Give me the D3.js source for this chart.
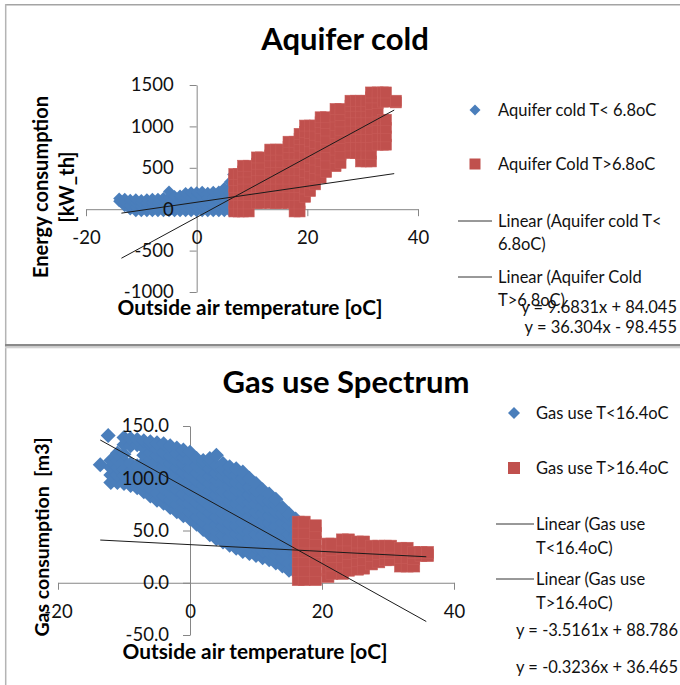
<!DOCTYPE html>
<html>
<head>
<meta charset="utf-8">
<script src="https://cdn.jsdelivr.net/npm/d3@7"></script>
<style>
  html, body { margin: 0; padding: 0; background: #fff; }
  svg { display: block; font-family: Lato, "Open Sans", "Liberation Sans", sans-serif; }
</style>
</head>
<body>
<svg id="chart" width="680" height="685"></svg>
<script>
// ---------------- Aquifer cold: energy consumption [kW_th] vs outside temperature [oC]
// Each entry: [temperature, [consumption readings at that temperature]]
const aquiferColdBelow = [
  [-14, [95, 130]],
  [-13, [35, 85, 125]],
  [-12, [-5, 45, 95, 115]],
  [-11, [-25, 25, 75, 120]],
  [-10, [-25, 30, 80, 110]],
  [-9, [-25, 25, 75, 120]],
  [-8, [-25, 30, 80, 125]],
  [-7, [-25, 25, 75, 125]],
  [-6, [-25, 30, 85, 135]],
  [-5, [-25, 30, 85, 140, 215]],
  [-4, [-25, 25, 80, 135, 160]],
  [-3, [-25, 30, 85, 140, 165]],
  [-2, [-25, 25, 80, 135, 195]],
  [-1, [-25, 30, 85, 140, 205]],
  [0, [-25, 25, 80, 135, 190, 205]],
  [1, [-25, 30, 85, 140, 210]],
  [2, [-25, 25, 80, 135, 200]],
  [3, [-25, 30, 85, 140, 210]],
  [4, [-25, 25, 80, 135, 190, 215]],
  [5, [-25, 30, 85, 140, 195, 255]],
  [6, [-25, 30, 85, 140, 195, 250, 330]],
  [6.6, [-25, 40, 100, 160, 220, 280, 350, 420]]
];
const aquiferColdAbove = [
  [6.8, [-27, 70, 170, 270, 350, 425]],
  [7.6, [-27, 70, 170, 270, 350, 425]],
  [8.4, [-27, 70, 170, 270, 370, 455, 525]],
  [9.4, [-27, 70, 170, 270, 370, 455, 525]],
  [10.9, [74, 170, 270, 370, 470, 550, 625]],
  [11.6, [74, 170, 270, 370, 470, 550, 625]],
  [13.3, [74, 170, 270, 370, 470, 570, 650, 720]],
  [14.3, [74, 170, 270, 370, 470, 570, 650, 720]],
  [15.3, [74, 170, 270, 370, 470, 570, 650, 720]],
  [16.6, [74, 170, 270, 370, 470, 570, 670, 750, 815]],
  [17.7, [-27, 70, 170, 270, 370, 470, 570, 670, 750, 815]],
  [18.6, [-27, 70, 170, 270, 370, 470, 570, 670, 770, 850, 910]],
  [19.6, [150, 250, 350, 450, 550, 650, 750, 850, 930, 1010]],
  [20.5, [220, 320, 420, 520, 620, 720, 820, 920, 1010]],
  [21.4, [300, 400, 500, 600, 700, 800, 900, 1010]],
  [22.4, [380, 480, 580, 680, 780, 880, 980, 1050, 1110]],
  [23.4, [450, 550, 650, 750, 850, 950, 1040, 1110]],
  [25.1, [520, 620, 720, 820, 920, 1020, 1120, 1210]],
  [26.0, [560, 660, 760, 860, 960, 1060, 1140, 1210]],
  [27.8, [678, 770, 870, 970, 1070, 1170, 1250, 1310]],
  [28.8, [678, 770, 870, 970, 1070, 1170, 1250, 1310]],
  [29.7, [577, 670, 770, 870, 970, 1070, 1170, 1250, 1310]],
  [30.7, [577, 670, 770, 870, 970, 1070, 1170, 1250, 1310]],
  [31.5, [577, 670, 770, 870, 970, 1070, 1170, 1270, 1350, 1410]],
  [32.7, [780, 880, 980, 1080, 1180, 1280, 1350, 1410]],
  [33.7, [780, 880, 980, 1080, 1300, 1410]],
  [34.2, [780, 880, 980, 1080, 1300, 1410]],
  [36.0, [1290, 1310]]
];
const aquiferTicksX = [-20, 0, 20, 40];
const aquiferTicksY = [-1000, -500, 0, 500, 1000, 1500];
const aquiferTrendSlopes = [9.6831, 36.304];
const aquiferTrendIntercepts = [84.045, -98.455];
const aquiferTrendRange = [-13.6, 35.7];
const aquiferLegend = ["Aquifer cold T< 6.8oC", "Aquifer Cold T>6.8oC",
  ["Linear (Aquifer cold T<", "6.8oC)"], ["Linear (Aquifer Cold", "T>6.8oC)"]];

// ---------------- Gas use spectrum: gas consumption [m3] vs outside temperature [oC]
const gasUseBelow = [
  [-13.6, [113]],
  [-12.4, [141]],
  [-12, [96, 103, 110, 117]],
  [-11, [96, 103, 110, 117, 124]],
  [-10, [95, 102, 109, 116, 123, 132, 139]],
  [-9, [93, 100, 107, 114, 131, 138]],
  [-8, [91, 98, 105, 112, 132, 137]],
  [-7, [87, 94, 101, 108, 115, 122, 129, 136]],
  [-6, [83, 90, 97, 104, 111, 118, 125, 132, 135]],
  [-5, [79, 86, 93, 100, 107, 114, 121, 128, 134]],
  [-4, [76, 83, 90, 97, 104, 111, 118, 125, 133]],
  [-3, [72, 79, 86, 93, 100, 107, 114, 121, 128, 131]],
  [-2, [68, 75, 82, 89, 96, 103, 110, 117, 124, 129]],
  [-1, [64, 71, 78, 85, 92, 99, 106, 113, 120, 127]],
  [0, [61, 68, 75, 82, 89, 96, 103, 110, 117, 125]],
  [1, [56, 63, 70, 77, 84, 91, 98, 105, 112, 119]],
  [2, [51, 58, 65, 72, 79, 86, 93, 100, 107, 114, 117]],
  [3, [46, 53, 60, 67, 74, 81, 88, 95, 102, 109, 116, 119]],
  [4, [42, 49, 56, 63, 70, 77, 84, 91, 98, 105, 112, 122]],
  [5, [39, 46, 53, 60, 67, 74, 81, 88, 95, 102, 109, 114]],
  [6, [36, 43, 50, 57, 64, 71, 78, 85, 92, 99, 106, 111]],
  [7, [33, 40, 47, 54, 61, 68, 75, 82, 89, 96, 103, 109]],
  [8, [30, 37, 44, 51, 58, 65, 72, 79, 86, 93, 100, 106]],
  [9, [28, 35, 42, 49, 56, 63, 70, 77, 84, 91, 100]],
  [10, [26, 33, 40, 47, 54, 61, 68, 75, 82, 89, 95]],
  [11, [24, 31, 38, 45, 52, 59, 66, 73, 80, 89]],
  [12, [22, 29, 36, 43, 50, 57, 64, 71, 78, 85]],
  [13, [19, 26, 33, 40, 47, 54, 61, 68, 75, 80]],
  [14, [16, 23, 30, 37, 44, 51, 58, 65, 72]],
  [15, [12, 19, 26, 33, 40, 47, 54, 61, 66]],
  [16, [10, 17, 24, 31, 38, 45, 52, 61]]
];
const gasUseAbove = [
  [16.4, [3, 12, 21, 30, 39, 48, 58]],
  [17.3, [3, 12, 21, 30, 39, 48, 58]],
  [19.0, [3, 12, 21, 30, 39, 47, 54.5]],
  [20.9, [6, 14, 22, 30, 37]],
  [21.5, [9, 17, 25, 32, 37]],
  [23.1, [9, 17, 25, 33, 41]],
  [24.0, [12, 20, 28, 35, 41]],
  [25.4, [13, 21, 29, 35, 39]],
  [26.3, [14, 22, 30, 39]],
  [27.5, [18, 26, 35]],
  [28.6, [20, 28, 35]],
  [29.6, [22, 29, 35]],
  [30.4, [22, 29, 35]],
  [31.9, [16, 24, 33]],
  [32.9, [16, 24, 33]],
  [33.9, [16, 23, 29]],
  [35.0, [26, 29]],
  [36.0, [26, 29]]
];
const gasTicksX = [-20, 0, 20, 40];
const gasTicksY = [-50, 0, 50, 100, 150];
const gasTrendSlopes = [-3.5161, -0.3236];
const gasTrendIntercepts = [88.786, 36.465];
const gasTrendRange = [-13.6, 35.8];
const gasLegend = ["Gas use T<16.4oC", "Gas use T>16.4oC",
  ["Linear (Gas use", "T<16.4oC)"], ["Linear (Gas use", "T>16.4oC)"]];

// ---------------- drawing
const BLUE = "#4a7ebb", RED = "#c0504d", AXIS = "#868686", INK = "#111";
const svg = d3.select("#chart");
// plain hyphen-minus for negative tick values
const fmt = d3.formatLocale({ decimal: ".", thousands: ",", grouping: [3], currency: ["", ""], minus: "-" }).format;

// panel frames
svg.append("rect").attr("x", 5).attr("y", 4).attr("width", 680).attr("height", 681).attr("fill", "#fff");
svg.append("line").attr("x1", 5).attr("x2", 680).attr("y1", 4.7).attr("y2", 4.7).attr("stroke", "#a4a4a4").attr("stroke-width", 1.5);
svg.append("line").attr("x1", 5.7).attr("x2", 5.7).attr("y1", 4).attr("y2", 685).attr("stroke", "#b4b4b4").attr("stroke-width", 1.5);
svg.append("rect").attr("x", 5).attr("y", 344).attr("width", 675).attr("height", 2.5).attr("fill", "#8a8a8a");
svg.append("rect").attr("x", 5).attr("y", 346.5).attr("width", 675).attr("height", 1.8).attr("fill", "#d2d2d2");

const flatten = cols => cols.flatMap(([t, vs]) => vs.map(v => [t, v]));
const diamondPath = h => `M0,${-h}L${h},0L0,${h}L${-h},0Z`;
const equation = (s, b) => `y = ${s}x ${b < 0 ? "-" : "+"} ${Math.abs(b)}`;

function drawPanel(p) {
  const g = svg.append("g");
  const x = d3.scaleLinear().domain([p.xTicks[0], p.xTicks[p.xTicks.length - 1]]).range(p.xRange);
  const y = d3.scaleLinear().domain([p.yTicks[0], p.yTicks[p.yTicks.length - 1]]).range(p.yRange);

  const xAxis = d3.axisBottom(x).tickValues(p.xTicks).tickSize(7).tickSizeOuter(0).tickPadding(p.xPad).tickFormat(fmt("d"));
  const yAxis = d3.axisLeft(y).tickValues(p.yTicks).tickSize(7).tickSizeOuter(0).tickPadding(p.yPad).tickFormat(p.yFormat);

  // axis lines underneath the markers
  const axesLines = g.append("g");
  axesLines.append("g").attr("transform", `translate(0,${y(0)})`).call(xAxis);
  axesLines.append("g").attr("transform", `translate(${x(0)},0)`).call(yAxis);
  axesLines.selectAll("text").remove();
  axesLines.selectAll("path,line").attr("stroke", AXIS).attr("stroke-width", 1);

  // low-temperature series (diamonds)
  g.append("g").selectAll("path").data(flatten(p.below)).join("path")
    .attr("transform", d => `translate(${x(d[0])},${y(d[1])})`)
    .attr("d", diamondPath(p.diamond))
    .attr("fill", BLUE);

  // high-temperature series (squares)
  g.append("g").selectAll("rect").data(flatten(p.above)).join("rect")
    .attr("x", d => x(d[0]) - p.square / 2)
    .attr("y", d => y(d[1]) - p.square / 2)
    .attr("width", p.square).attr("height", p.square)
    .attr("fill", RED).attr("stroke", "#c85c59").attr("stroke-width", 0.6);

  // linear trendlines
  p.slopes.forEach((s, i) => {
    const b = p.intercepts[i];
    g.append("line")
      .attr("x1", x(p.trendRange[0])).attr("y1", y(s * p.trendRange[0] + b))
      .attr("x2", x(p.trendRange[1])).attr("y2", y(s * p.trendRange[1] + b))
      .attr("stroke", "#1a1a1a").attr("stroke-width", 1);
  });

  // tick labels on top
  const labels = g.append("g");
  labels.append("g").attr("transform", `translate(0,${y(0)})`).call(xAxis);
  labels.append("g").attr("transform", `translate(${x(0)},0)`).call(yAxis);
  labels.selectAll("path,line").remove();
  labels.selectAll("g").attr("font-family", null).attr("font-size", null);
  labels.selectAll("text").attr("fill", INK).style("font-size", p.tickFont + "px");

  // titles
  g.append("text").attr("x", p.title.x).attr("y", p.title.y).attr("text-anchor", "middle")
    .style("font-size", p.title.size + "px").style("font-weight", 700).attr("fill", "#000").text(p.title.text);
  g.append("text").attr("x", p.xTitle.x).attr("y", p.xTitle.y).attr("text-anchor", "middle")
    .style("font-size", p.xTitle.size + "px").style("font-weight", 700).attr("fill", "#000").text(p.xTitle.text);
  p.yTitle.lines.forEach((ln, i) => {
    g.append("text").attr("transform", `translate(${p.yTitle.x[i]},${p.yTitle.y}) rotate(-90)`)
      .attr("text-anchor", "middle").style("white-space", "pre")
      .style("font-size", p.yTitle.size + "px").style("font-weight", 700).attr("fill", "#000").text(ln);
  });

  // legend
  const L = p.legend;
  const lg = g.append("g").style("font-size", L.font + "px").attr("fill", INK);
  lg.append("path").attr("transform", `translate(${L.markerX},${L.rows[0]})`).attr("d", diamondPath(L.diamond)).attr("fill", BLUE);
  lg.append("rect").attr("x", L.markerX - L.square / 2).attr("y", L.rows[1] - L.square / 2)
    .attr("width", L.square).attr("height", L.square).attr("fill", RED);
  [2, 3].forEach(i => {
    lg.append("line").attr("x1", L.lineX[0]).attr("x2", L.lineX[1]).attr("y1", L.rows[i]).attr("y2", L.rows[i])
      .attr("stroke", "#333").attr("stroke-width", 1);
  });
  p.legendText.forEach((t, i) => {
    const lines = Array.isArray(t) ? t : [t];
    lines.forEach((ln, j) => {
      lg.append("text").attr("x", L.textX).attr("y", L.rows[i] + j * L.lineGap).attr("dy", "0.35em").text(ln);
    });
  });
  p.slopes.forEach((s, i) => {
    lg.append("text").attr("x", L.eqX).attr("y", L.eqRows[i]).attr("dy", "0.35em")
      .attr("text-anchor", "end").text(equation(s, p.intercepts[i]));
  });
}

drawPanel({
  below: aquiferColdBelow, above: aquiferColdAbove,
  xTicks: aquiferTicksX, yTicks: aquiferTicksY,
  xRange: [86, 418], yRange: [292, 85],
  xPad: 15, yPad: 16, yFormat: fmt("d"), tickFont: 18.5,
  diamond: 6, square: 11,
  slopes: aquiferTrendSlopes, intercepts: aquiferTrendIntercepts, trendRange: aquiferTrendRange,
  title: { text: "Aquifer cold", x: 345, y: 50, size: 31 },
  xTitle: { text: "Outside air temperature [oC]", x: 250, y: 315, size: 20.8 },
  yTitle: { lines: ["Energy consumption", "[kW_th]"], x: [48, 74], y: 187, size: 20 },
  legendText: aquiferLegend,
  legend: { font: 16.5, markerX: 475, textX: 498, rows: [110, 164, 221, 277], lineGap: 23,
            lineX: [458, 492], diamond: 5.5, square: 11, eqX: 677, eqRows: [307, 327] }
});

drawPanel({
  below: gasUseBelow, above: gasUseAbove,
  xTicks: gasTicksX, yTicks: gasTicksY,
  xRange: [58, 454], yRange: [635, 426],
  xPad: 15, yPad: 14, yFormat: fmt(".1f"), tickFont: 18.5,
  diamond: 7.5, square: 12,
  slopes: gasTrendSlopes, intercepts: gasTrendIntercepts, trendRange: gasTrendRange,
  title: { text: "Gas use Spectrum", x: 346, y: 393, size: 31 },
  xTitle: { text: "Outside air temperature [oC]", x: 255, y: 659, size: 20.8 },
  yTitle: { lines: ["Gas consumption  [m3]"], x: [49], y: 537, size: 19.5 },
  legendText: gasLegend,
  legend: { font: 16.5, markerX: 514, textX: 536, rows: [413, 468, 524, 579], lineGap: 24,
            lineX: [496, 534], diamond: 6, square: 12, eqX: 678, eqRows: [630, 667] }
});
</script>
</body>
</html>
